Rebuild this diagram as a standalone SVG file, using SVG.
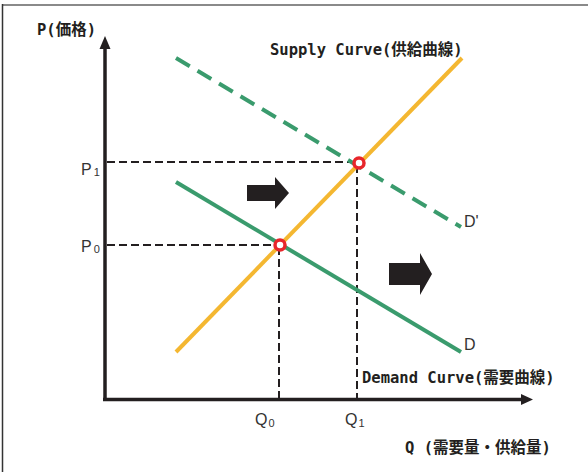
<svg xmlns="http://www.w3.org/2000/svg" width="588" height="472" viewBox="0 0 588 472">
<style>
.lbl{font-family:"DejaVu Sans Mono","Noto Sans CJK JP",monospace;font-weight:bold;font-size:15.5px;fill:#231f20}
.sub{font-family:"Liberation Sans","Noto Sans",sans-serif;font-size:16px;fill:#333}
.guide{stroke:#231f20;stroke-width:2;stroke-dasharray:8 4;fill:none}
.axis{stroke:#231f20;stroke-width:3.5;fill:none}
.pt{fill:#fff;stroke:#e8262b;stroke-width:3.5}
.blk{fill:#231f20}
</style>
<rect x="0" y="0" width="588" height="472" fill="#fff"/>
<g id="frame">
<line x1="2" y1="5" x2="588" y2="5" stroke="#8a8a8a" stroke-width="2"/>
<line x1="2.5" y1="4" x2="2.5" y2="472" stroke="#333" stroke-width="1.5"/>
</g>
<g id="connectors">
<line class="guide" x1="107" y1="162" x2="357" y2="162"/>
<line class="guide" x1="357" y1="165" x2="357" y2="398"/>
<line class="guide" x1="107" y1="245" x2="279" y2="245"/>
<line class="guide" x1="279" y1="247" x2="279" y2="398"/>
</g>
<g id="axes">
<line class="axis" x1="105" y1="401" x2="105" y2="46"/>
<polygon class="blk" points="105,36 99.5,49 110.5,49"/>
<line class="axis" x1="103" y1="399.5" x2="524" y2="399.5"/>
<polygon class="blk" points="533,399.5 521,394 521,405"/>
</g>
<g id="demand-shifted">
<line x1="176" y1="58" x2="461" y2="227" stroke="#3a9b6d" stroke-width="4" stroke-dasharray="16 9"/>
</g>
<g id="demand">
<line x1="176" y1="182" x2="461" y2="352" stroke="#3a9b6d" stroke-width="4"/>
</g>
<g id="supply">
<line x1="176" y1="352" x2="462" y2="58" stroke="#f4b731" stroke-width="4"/>
</g>
<g id="point-p0"><circle class="pt" cx="280" cy="245" r="5"/></g>
<g id="point-p1"><circle class="pt" cx="359" cy="163" r="5"/></g>
<g id="shift-arrow-1"><polygon class="blk" points="247,185 275,185 275,177 289,193 275,209 275,201 247,201"/></g>
<g id="shift-arrow-2"><polygon class="blk" points="389,263 420,263 420,253 432,274 420,295 420,285 389,285"/></g>
<g id="labels">
<text class="lbl" x="37" y="35">P(価格)</text>
<text class="lbl" x="270" y="55">Supply Curve(供給曲線)</text>
<text class="lbl" x="362" y="383">Demand Curve(需要曲線)</text>
<text class="lbl" x="405" y="453">Q (需要量・供給量)</text>
<text class="sub" x="81" y="175">P<tspan font-size="11" dx="2" dy="1">1</tspan></text>
<text class="sub" x="81" y="252">P<tspan font-size="11" dx="2" dy="1">0</tspan></text>
<text class="sub" x="255" y="425">Q<tspan font-size="11" dx="1" dy="2">0</tspan></text>
<text class="sub" x="345" y="425">Q<tspan font-size="11" dx="1" dy="2">1</tspan></text>
<text class="sub" x="464" y="227">D'</text>
<text class="sub" x="464" y="350">D</text>
</g>
</svg>
